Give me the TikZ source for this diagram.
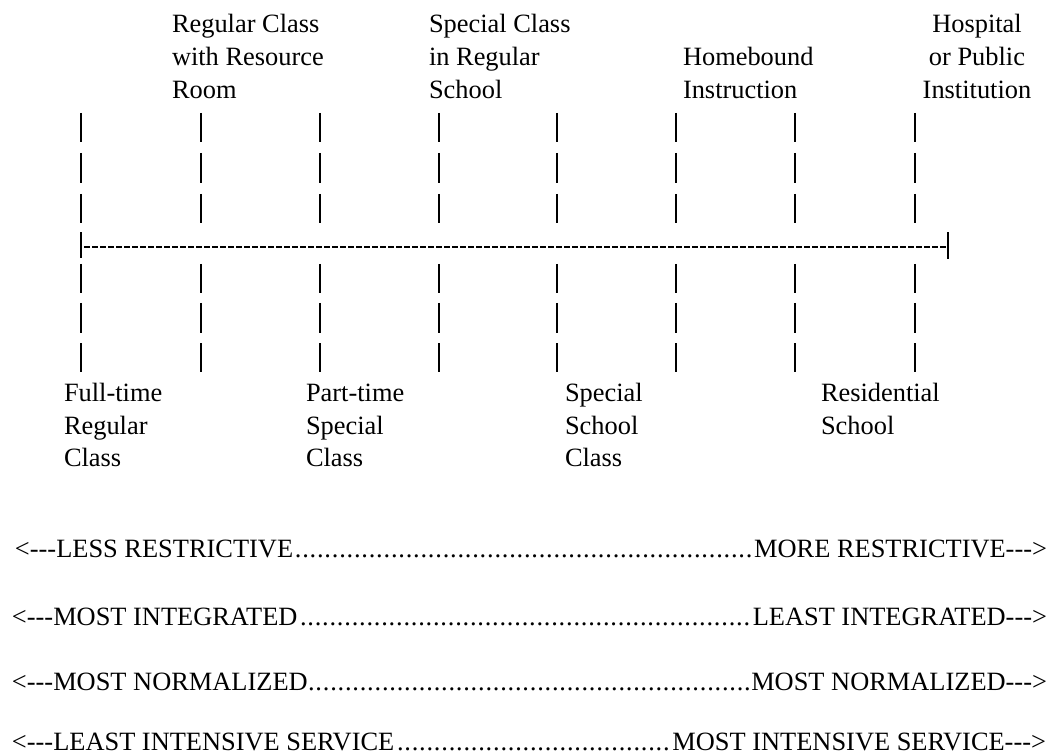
\documentclass[tikz,border=0pt]{standalone}
\usepackage{fontspec}
\setmainfont{Liberation Serif}
\newcommand\dotrow{\cleaders\hbox to 0.28em{\hss.\hss}\hfill}
\newcommand\lblock[2][l]{\begin{tabular}[t]{@{}#1@{}}#2\end{tabular}}
\newcommand\arrL{<-{}-{}-}
\newcommand\arrR{-{}-{}->}
\begin{document}
\begin{tikzpicture}[x=1pt,y=-1pt,
  every node/.style={inner sep=0pt,outer sep=0pt,font=\fontsize{26.4}{33}\selectfont},
  lbl/.style={anchor=base west},
  bar/.style={line width=2pt,black},
  dashline/.style={line width=2pt,dash pattern=on 5.5pt off 2.5pt,black}]
\useasboundingbox[fill=white] (0,0) rectangle (1061,754);

% vertical columns of bars
\foreach \x [count=\i] in {81,201,320,439,557,676,795,915}{
  \coordinate (c\i) at (\x,0);
  \foreach \ya/\yb in {113/142,153/183,194/223,264/293,303/333,343/372}
    \draw[bar] (\x,\ya) -- (\x,\yb);
}

% dashed continuum line with end bars
\coordinate (dl) at (81,247);
\coordinate (dr) at (948,247);
\draw[dashline] ([xshift=3pt]dl) -- ([xshift=-2pt]dr);
\draw[bar] ([yshift=-11pt]dl) -- ([yshift=15pt]dl);
\draw[bar] ([yshift=-12pt]dr) -- ([yshift=15pt]dr);

% top labels
\node[lbl] (rcr) at (172,33) {\lblock{Regular Class\\with Resource\\Room}};
\node[lbl] (scr) at (429,33) {\lblock{Special Class\\in Regular\\School}};
\node[lbl] (hbi) at (683,66) {\lblock{Homebound\\Instruction}};
\node[anchor=base] (hpi) at (977,33) {\lblock[c]{Hospital\\or Public\\Institution}};

% bottom labels
\node[lbl] (ftr) at (64,401) {\lblock{Full-time\\Regular\\Class}};
\node[lbl] (pts) at (306,401) {\lblock{Part-time\\Special\\Class}};
\node[lbl] (ssc) at (565,401) {\lblock{Special\\School\\Class}};
\node[lbl] (res) at (821,401) {\lblock{Residential\\School}};

% continua
\node[lbl] (l1) at (15,557) {\hbox to 1032pt{\arrL LESS RESTRICTIVE\dotrow MORE RESTRICTIVE\arrR}};
\node[lbl] (l2) at (12,625) {\hbox to 1035pt{\arrL MOST INTEGRATED\dotrow LEAST INTEGRATED\arrR}};
\node[lbl] (l3) at (12,690) {\hbox to 1035pt{\arrL MOST NORMALIZED\dotrow MOST NORMALIZED\arrR}};
\node[lbl] (l4) at (12,750) {\hbox to 1034pt{\arrL LEAST INTENSIVE SERVICE\dotrow MOST INTENSIVE SERVICE\arrR}};
\end{tikzpicture}
\end{document}
